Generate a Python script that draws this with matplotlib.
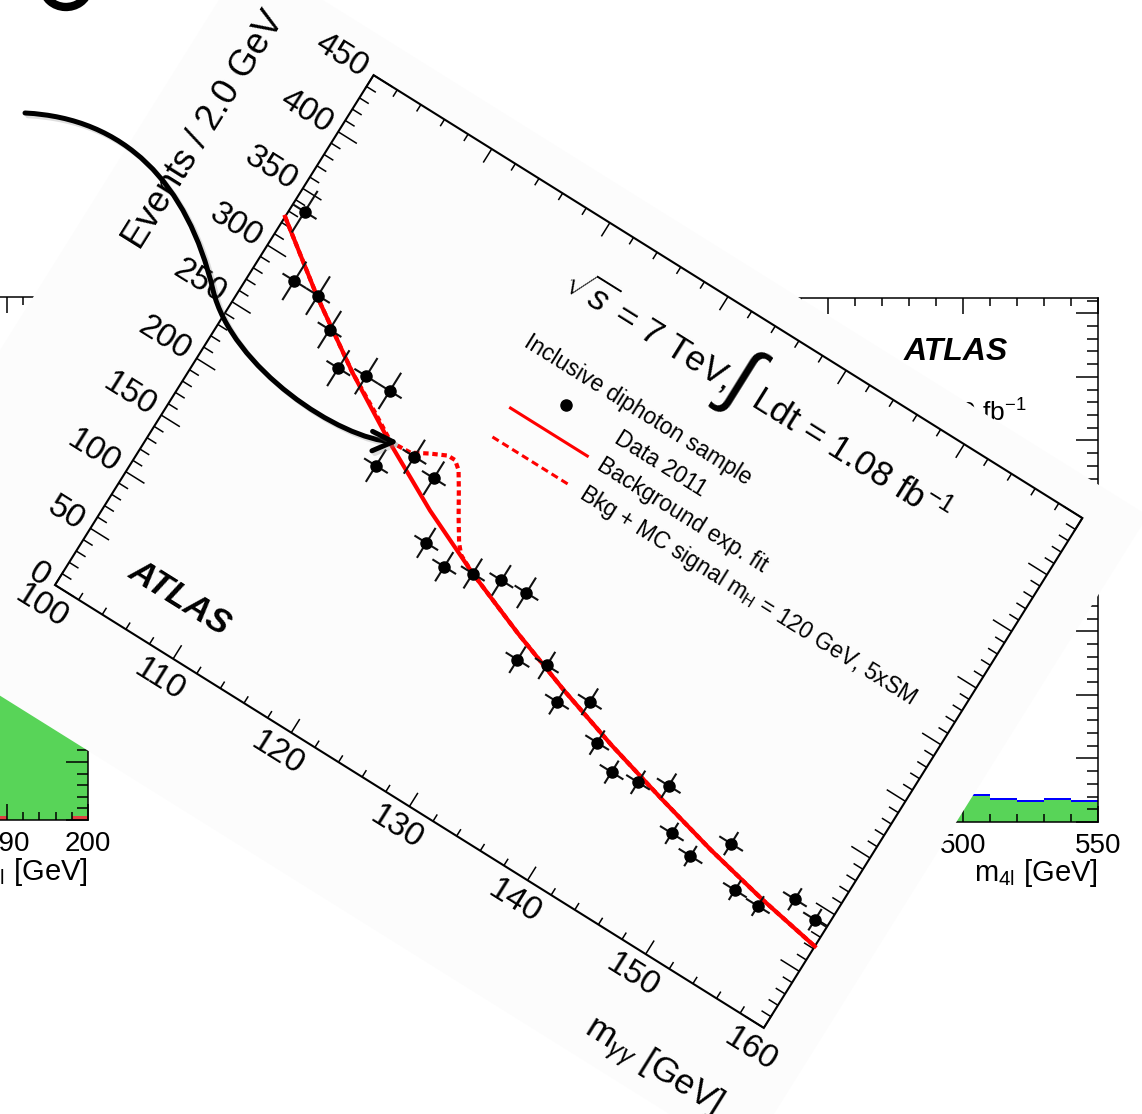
import numpy as np
import matplotlib
matplotlib.use('Agg')
import matplotlib.pyplot as plt
from matplotlib.transforms import Affine2D
from matplotlib.collections import LineCollection
from matplotlib.patches import Polygon, FancyArrowPatch, Arc
from matplotlib.path import Path
from matplotlib.ticker import MultipleLocator
import matplotlib.patheffects as pe

plt.rcParams['font.family'] = ['Liberation Sans', 'DejaVu Sans']
plt.rcParams['mathtext.fontset'] = 'custom'
plt.rcParams['mathtext.rm'] = 'Liberation Sans'
plt.rcParams['mathtext.it'] = 'Liberation Sans:italic'
plt.rcParams['mathtext.bf'] = 'Liberation Sans:bold'

# --- diphoton mass spectrum, 2 GeV bins ---
mgg = [101, 103, 105, 107, 109, 111, 113, 115, 117, 119,
       121, 123, 125, 127, 129, 131, 133, 135, 137, 139,
       141, 143, 145, 147, 149, 151, 153, 155, 157, 159]
events = [336, 288, 288, 271, 250, 256, 256, 203, 224, 218,
          174, 166, 173, 180, 182, 136, 144, 125, 138, 115,
          102, 106, 116, 87, 80, 104, 76, 75, 94, 89]

# background exponential fit
bkg_m = [100, 105, 110, 115, 120, 125, 130, 135, 140, 145, 150, 155, 160]
bkg_n = [325, 287, 253, 223, 196, 173, 153, 135, 119, 105, 92, 81, 72]

# background + MC signal (mH = 120 GeV, 5xSM)
sig_m = [100, 105, 110, 113, 115, 116.6, 117.8, 119.0, 119.6, 120.2, 121.0,
         122.0, 123.0, 123.6, 124.2, 125, 130, 135, 140, 145, 150, 155, 160]
sig_n = [325, 287, 253, 236, 224, 225, 232, 238, 238, 233, 220,
         203, 187, 180, 177, 173, 153, 135, 119, 105, 92, 81, 72]

# partly hidden four-lepton plots behind
left_edges = [184, 186, 188, 190, 192, 194, 196, 198, 200]
left_green = [7.5, 7.0, 6.8, 6.5, 6.3, 6.0, 5.8, 5.6]
left_red = [0, 0, 0.15, 0, 0, 0, 0, 0.15]
right_edges = [480, 490, 500, 510, 520, 530, 540, 550]
right_green = [2.3, 2.2, 2.05, 1.75, 1.6, 1.75, 1.6]
right_blue = [2.45, 2.35, 2.2, 1.9, 1.75, 1.9, 1.75]

GREEN = '#58d458'
W, H = 1142, 1114
fig = plt.figure(figsize=(W / 100, H / 100), dpi=100)


def root_axes(a, xmaj, xmin_, ymaj, ymin_):
    a.xaxis.set_major_locator(MultipleLocator(xmaj))
    a.xaxis.set_minor_locator(MultipleLocator(xmin_))
    a.yaxis.set_major_locator(MultipleLocator(ymaj))
    a.yaxis.set_minor_locator(MultipleLocator(ymin_))
    a.tick_params(which='both', direction='in', top=True, right=True,
                  width=1.1, labelsize=20, pad=8, labelleft=False)
    a.tick_params(axis='x', which='major', length=11.5)
    a.tick_params(axis='x', which='minor', length=5.5)
    a.tick_params(axis='y', which='major', length=16)
    a.tick_params(axis='y', which='minor', length=8)
    for s in a.spines.values():
        s.set_linewidth(1.1)


# left plot (m4l, low mass)
axL = fig.add_axes([-722 / W, (H - 820) / H, 810 / W, 523 / H], zorder=0)
axL.set_xlim(100, 200)
axL.set_ylim(0, 18)
axL.stairs(left_green, left_edges, fill=True, color=GREEN)
axL.stairs(left_red, left_edges, fill=True, color='#e04040')
root_axes(axL, 10, 2, 2, 0.4)
axL.text(1.0, -0.10, r'm$_{\rm 4l}$ [GeV]', transform=axL.transAxes,
         ha='right', va='center', fontsize=21)

# right plot (m4l, high mass)
axR = fig.add_axes([288 / W, (H - 822) / H, 810 / W, 524 / H], zorder=0)
axR.set_xlim(250, 550)
axR.set_ylim(0, 41.2)
axR.stairs(right_blue, right_edges, fill=True, color='#0000ff')
axR.stairs(right_green, right_edges, fill=True, color=GREEN)
root_axes(axR, 50, 10, 5, 1)
axR.text(1.0, -0.097, r'm$_{\rm 4l}$ [GeV]', transform=axR.transAxes,
         ha='right', va='center', fontsize=21)
axR.text(0.825, 0.897, 'ATLAS', transform=axR.transAxes, ha='center',
         va='center', fontsize=23, fontweight='bold', fontstyle='italic')
axR.text(0.912, 0.782, r'$\int$Ldt = 2.0 fb$^{-1}$', transform=axR.transAxes,
         ha='right', va='center', fontsize=19)

# canvas in pixel units for the rotated plot
ax = fig.add_axes([0, 0, 1, 1], zorder=2)
ax.set_xlim(0, W)
ax.set_ylim(H, 0)
ax.axis('off')
ax.set_autoscale_on(False)

ANGLE = 32.0
ORIGIN = (55.0, 585.0)
XMIN, XMAX = 100.0, 160.0
YMIN, YMAX = 0.0, 450.0
SX = 13.93   # px per GeV
SY = 1.336   # px per event

frame = Affine2D().scale(1, -1).rotate_deg(ANGLE).translate(*ORIGIN) + ax.transData
dtr = Affine2D().translate(-XMIN, 0).scale(SX, SY) + frame

# paper sheet behind the rotated plot
ax.add_patch(Polygon([(-171, -123), (890, -123), (890, 638), (-171, 638)],
                     closed=True, fc='#fcfcfc', ec='none', transform=frame, zorder=1))

# frame and ticks
ax.add_patch(Polygon([(XMIN, YMIN), (XMAX, YMIN), (XMAX, YMAX), (XMIN, YMAX)],
                     closed=True, fill=False, ec='k', lw=1.5, transform=dtr, zorder=3))
xt_major = np.arange(100, 161, 10)
xt_minor = np.arange(100, 161, 2)
yt_major = np.arange(0, 451, 50)
yt_minor = np.arange(0, 451, 10)
segs = []
for m in xt_minor:
    L = (16 if m % 10 == 0 else 8) / SY
    segs += [[(m, YMIN), (m, YMIN + L)], [(m, YMAX), (m, YMAX - L)]]
for n in yt_minor:
    L = (22 if n % 50 == 0 else 11) / SX
    segs += [[(XMIN, n), (XMIN + L, n)], [(XMAX, n), (XMAX - L, n)]]
ax.add_collection(LineCollection(segs, colors='k', linewidths=1.1,
                                 transform=dtr, zorder=3))

txt = dict(transform=dtr, rotation=-ANGLE, rotation_mode='anchor', zorder=7)
for m in xt_major:
    ax.text(m, YMIN - 25 / SY, f'{m}', ha='center', va='center', fontsize=24, **txt)
for n in yt_major:
    ax.text(XMIN - 10 / SX, n, f'{n}', ha='right', va='center', fontsize=24, **txt)

ax.text(160.3, YMIN - 92 / SY, r'm$_{\gamma\gamma}$ [GeV]', ha='right', va='center',
        fontsize=25.5, **txt)
ax.text(XMIN - 114 / SX, YMAX, 'Events / 2.0 GeV', ha='right', va='center',
        fontsize=26, transform=dtr, rotation=90 - ANGLE, rotation_mode='anchor', zorder=7)

# curves
ax.plot(sig_m, sig_n, color='red', lw=3, ls=(0, (1.3, 0.9)), transform=dtr, zorder=4)
ax.plot(bkg_m, bkg_n, color='red', lw=3, transform=dtr, zorder=4)

# data points with errors
err = np.sqrt(events)
vsegs = [[(m, n - e), (m, n + e)] for m, n, e in zip(mgg, events, err)]
hsegs = [[(m - 1, n), (m + 1, n)] for m, n in zip(mgg, events)]
ax.add_collection(LineCollection(vsegs + hsegs, colors='#111111', linewidths=1.5,
                                 transform=dtr, zorder=5))
ax.plot(mgg, events, 'o', ms=8, color='k', transform=dtr, zorder=6)

# labels inside the frame
ax.text(108.1, 41, 'ATLAS', ha='center', va='center', fontsize=25,
        fontweight='bold', fontstyle='italic', **txt)
ax.text(119.5, 389, r'$\sqrt{s}$ = 7 TeV,', ha='left', va='baseline', fontsize=25.5, **txt)
ax.text(134.0, 401, r'$\int$', ha='center', va='center', fontsize=58, **txt)
ax.text(135.4, 389, r'Ldt = 1.08 fb$^{-1}$', ha='left', va='baseline', fontsize=25.5, **txt)

ax.text(119.4, 342, 'Inclusive diphoton sample', ha='left', va='center', fontsize=16.5, **txt)
ax.plot([124.3], [317], 'o', ms=8, color='k', transform=dtr, zorder=6)
ax.plot([121, 127.5], [293, 293], color='red', lw=2.2, transform=dtr, zorder=6)
ax.plot([121, 127.5], [267.5, 267.5], color='red', lw=2.2, ls=(0, (2.4, 1.4)),
        transform=dtr, zorder=6)
ax.text(128.5, 317, 'Data 2011', ha='left', va='center', fontsize=16.5, **txt)
ax.text(128.5, 293, 'Background exp. fit', ha='left', va='center', fontsize=16.5, **txt)
ax.text(128.5, 268, r'Bkg + MC signal m$_{\rm H}$ = 120 GeV, 5xSM', ha='left',
        va='center', fontsize=16.5, **txt)

# curved pointer arrow
verts = [(25, 113), (125, 118), (187.7, 183.3), (213, 290),
         (231.4, 367.6), (340, 440), (399, 442)]
codes = [Path.MOVETO] + [Path.CURVE4] * 6
arrow = FancyArrowPatch(path=Path(verts, codes), arrowstyle='->,head_length=15,head_width=7',
                        lw=3.6, color='k', shrinkA=0, shrinkB=0, zorder=9,
                        transform=ax.transData)
arrow.set_path_effects([pe.SimpleLineShadow(offset=(2, -2), shadow_color='gray', alpha=0.25),
                        pe.Normal()])
ax.add_patch(arrow)

# stroke of a large letter at the top edge
ax.add_patch(Arc((66, -14), 46, 42, theta1=10, theta2=175, lw=6, color='k', zorder=9))

fig.savefig('out.png', dpi=100, facecolor='white')
